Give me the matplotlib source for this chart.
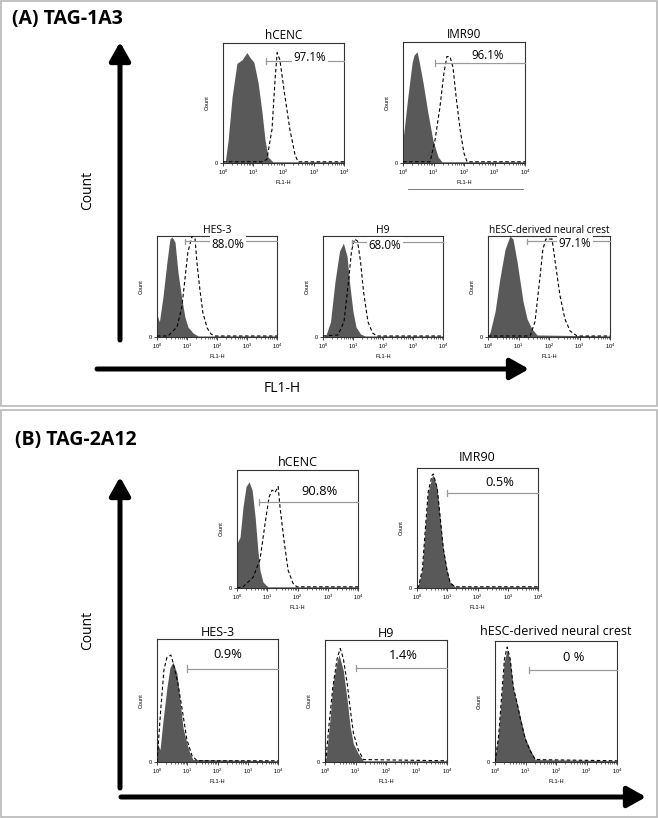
import matplotlib
matplotlib.use('Agg')
import matplotlib.pyplot as plt
from matplotlib.patches import Rectangle
from matplotlib.ticker import LogLocator, NullFormatter

# ---------------- data (log10 FL1-H position, normalised count) ----------------
titles = ["hCENC", "IMR90", "HES-3", "H9", "hESC-derived neural crest"]
pct_A = ["97.1%", "96.1%", "88.0%", "68.0%", "97.1%"]
pct_B = ["90.8%", "0.5%", "0.9%", "1.4%", "0 %"]
gate_A = [1.42, 1.05, 0.93, 0.97, 1.28]      # log10 gate start
gate_B = [0.73, 0.99, 0.99, 1.02, 1.12]

# Panel A (TAG-1A3)
A_hcenc_iso_x = [0.0, 0.07, 0.17, 0.30, 0.46, 0.63, 0.79, 0.89, 1.02, 1.16, 1.29, 1.39, 1.49, 1.65, 4.0]
A_hcenc_iso_y = [0.02, 0.0, 0.19, 0.55, 0.83, 0.86, 0.92, 0.88, 0.84, 0.67, 0.42, 0.19, 0.05, 0.01, 0.01]
A_hcenc_ab_x = [0.0, 1.30, 1.45, 1.62, 1.72, 1.79, 1.88, 2.05, 2.21, 2.38, 2.48, 4.0]
A_hcenc_ab_y = [0.01, 0.01, 0.03, 0.28, 0.69, 0.92, 0.86, 0.55, 0.28, 0.07, 0.01, 0.01]

A_imr_iso_x = [0.0, 0.0, 0.16, 0.30, 0.36, 0.46, 0.52, 0.66, 0.82, 0.98, 1.15, 1.28, 4.0]
A_imr_iso_y = [0.0, 0.19, 0.55, 0.83, 0.89, 0.92, 0.85, 0.66, 0.41, 0.19, 0.05, 0.01, 0.01]
A_imr_ab_x = [0.0, 0.89, 1.05, 1.21, 1.34, 1.44, 1.54, 1.64, 1.74, 1.87, 2.0, 2.1, 4.0]
A_imr_ab_y = [0.01, 0.01, 0.19, 0.46, 0.74, 0.88, 0.88, 0.79, 0.55, 0.28, 0.08, 0.01, 0.01]

A_hes_iso_x = [0.0, 0.0, 0.08, 0.2, 0.33, 0.43, 0.5, 0.6, 0.7, 0.83, 0.93, 1.03, 1.2, 1.37, 4.0]
A_hes_iso_y = [0.0, 0.22, 0.15, 0.40, 0.74, 0.97, 0.99, 0.94, 0.64, 0.37, 0.2, 0.1, 0.04, 0.01, 0.01]
A_hes_ab_x = [0.0, 0.37, 0.67, 0.83, 0.93, 1.03, 1.17, 1.27, 1.33, 1.43, 1.53, 1.67, 1.8, 1.93, 4.0]
A_hes_ab_y = [0.01, 0.01, 0.1, 0.3, 0.57, 0.84, 1.0, 0.97, 0.74, 0.47, 0.24, 0.09, 0.03, 0.01, 0.01]

A_h9_iso_x = [0.0, 0.1, 0.25, 0.4, 0.55, 0.68, 0.8, 0.9, 1.0, 1.1, 1.25, 1.4, 4.0]
A_h9_iso_y = [0.0, 0.02, 0.15, 0.55, 0.85, 0.93, 0.8, 0.5, 0.25, 0.1, 0.03, 0.01, 0.01]
A_h9_ab_x = [0.0, 0.5, 0.7, 0.85, 0.95, 1.05, 1.15, 1.25, 1.35, 1.5, 1.65, 1.8, 4.0]
A_h9_ab_y = [0.01, 0.02, 0.15, 0.55, 0.85, 0.97, 0.95, 0.75, 0.45, 0.15, 0.04, 0.01, 0.01]

A_nc_iso_x = [0.0, 0.07, 0.23, 0.39, 0.56, 0.72, 0.82, 0.95, 1.05, 1.15, 1.28, 1.44, 1.61, 4.0]
A_nc_iso_y = [0.0, 0.05, 0.25, 0.58, 0.87, 1.0, 0.97, 0.75, 0.55, 0.35, 0.18, 0.08, 0.02, 0.01]
A_nc_ab_x = [0.0, 1.38, 1.54, 1.7, 1.8, 1.9, 2.1, 2.2, 2.36, 2.52, 2.69, 2.92, 4.0]
A_nc_ab_y = [0.01, 0.01, 0.15, 0.58, 0.87, 0.97, 0.97, 0.75, 0.41, 0.18, 0.06, 0.01, 0.01]

# Panel B (TAG-2A12)
B_hcenc_iso_x = [0.0, 0.0, 0.1, 0.2, 0.3, 0.4, 0.5, 0.6, 0.69, 0.76, 0.86, 1.02, 4.0]
B_hcenc_iso_y = [0.0, 0.38, 0.43, 0.69, 0.86, 0.9, 0.83, 0.6, 0.32, 0.15, 0.05, 0.01, 0.01]
B_hcenc_ab_x = [0.0, 0.2, 0.53, 0.76, 0.93, 1.06, 1.16, 1.26, 1.36, 1.42, 1.55, 1.69, 1.85, 1.98, 4.0]
B_hcenc_ab_y = [0.0, 0.01, 0.09, 0.24, 0.55, 0.77, 0.83, 0.81, 0.86, 0.69, 0.41, 0.15, 0.04, 0.01, 0.01]

B_imr_iso_x = [0.0, 0.03, 0.17, 0.26, 0.36, 0.5, 0.53, 0.66, 0.76, 0.86, 0.99, 1.09, 1.26, 4.0]
B_imr_iso_y = [0.0, 0.01, 0.15, 0.46, 0.79, 0.93, 0.94, 0.84, 0.59, 0.34, 0.15, 0.05, 0.01, 0.01]
B_imr_ab_x = [0.0, 0.05, 0.18, 0.27, 0.37, 0.5, 0.54, 0.67, 0.77, 0.87, 1.0, 1.1, 1.27, 4.0]
B_imr_ab_y = [0.0, 0.01, 0.16, 0.47, 0.8, 0.94, 0.95, 0.83, 0.58, 0.33, 0.14, 0.04, 0.01, 0.01]

B_hes_iso_x = [0.0, 0.0, 0.1, 0.2, 0.33, 0.43, 0.53, 0.66, 0.76, 0.86, 0.99, 1.09, 1.19, 4.0]
B_hes_iso_y = [0.0, 0.16, 0.1, 0.34, 0.61, 0.77, 0.81, 0.72, 0.5, 0.28, 0.15, 0.07, 0.02, 0.01]
B_hes_ab_x = [0.0, 0.03, 0.13, 0.23, 0.33, 0.46, 0.53, 0.69, 0.83, 0.99, 1.16, 1.33, 4.0]
B_hes_ab_y = [0.0, 0.1, 0.45, 0.75, 0.85, 0.87, 0.81, 0.64, 0.43, 0.18, 0.05, 0.01, 0.01]

B_h9_iso_x = [0.0, 0.03, 0.17, 0.26, 0.4, 0.46, 0.6, 0.73, 0.83, 0.93, 1.09, 1.26, 4.0]
B_h9_iso_y = [0.0, 0.02, 0.37, 0.64, 0.83, 0.88, 0.75, 0.5, 0.28, 0.15, 0.07, 0.01, 0.01]
B_h9_ab_x = [0.0, 0.03, 0.13, 0.26, 0.4, 0.5, 0.6, 0.73, 0.83, 0.93, 1.09, 1.26, 4.0]
B_h9_ab_y = [0.0, 0.02, 0.3, 0.62, 0.85, 0.93, 0.85, 0.64, 0.43, 0.24, 0.1, 0.02, 0.01]

B_nc_iso_x = [0.0, 0.0, 0.1, 0.2, 0.3, 0.4, 0.5, 0.6, 0.73, 0.83, 0.99, 1.16, 1.32, 4.0]
B_nc_iso_y = [0.0, 0.03, 0.2, 0.5, 0.83, 0.93, 0.83, 0.61, 0.48, 0.37, 0.2, 0.1, 0.02, 0.01]
B_nc_ab_x = [0.0, 0.03, 0.12, 0.21, 0.31, 0.4, 0.5, 0.6, 0.73, 0.83, 0.99, 1.16, 1.32, 4.0]
B_nc_ab_y = [0.0, 0.05, 0.22, 0.52, 0.85, 0.95, 0.85, 0.62, 0.48, 0.36, 0.19, 0.09, 0.02, 0.01]

curves_A = [(A_hcenc_iso_x, A_hcenc_iso_y, A_hcenc_ab_x, A_hcenc_ab_y),
            (A_imr_iso_x, A_imr_iso_y, A_imr_ab_x, A_imr_ab_y),
            (A_hes_iso_x, A_hes_iso_y, A_hes_ab_x, A_hes_ab_y),
            (A_h9_iso_x, A_h9_iso_y, A_h9_ab_x, A_h9_ab_y),
            (A_nc_iso_x, A_nc_iso_y, A_nc_ab_x, A_nc_ab_y)]
curves_B = [(B_hcenc_iso_x, B_hcenc_iso_y, B_hcenc_ab_x, B_hcenc_ab_y),
            (B_imr_iso_x, B_imr_iso_y, B_imr_ab_x, B_imr_ab_y),
            (B_hes_iso_x, B_hes_iso_y, B_hes_ab_x, B_hes_ab_y),
            (B_h9_iso_x, B_h9_iso_y, B_h9_ab_x, B_h9_ab_y),
            (B_nc_iso_x, B_nc_iso_y, B_nc_ab_x, B_nc_ab_y)]

# ---------------- layout ----------------
W, H = 658, 818
fig = plt.figure(figsize=(W / 100, H / 100), dpi=100)
TXT = ['Open Sans', 'DejaVu Sans']
SMALL = ['Liberation Sans', 'DejaVu Sans']

def rect(x0, y0, x1, y1):
    return [x0 / W, 1 - y1 / H, (x1 - x0) / W, (y1 - y0) / H]

ov = fig.add_axes([0, 0, 1, 1], zorder=0)
ov.set_xlim(0, W)
ov.set_ylim(H, 0)
ov.axis('off')

# panel frames
ov.add_patch(Rectangle((1, 1), 656, 405, fill=False, ec='#b8b8b8', lw=1.2))
ov.add_patch(Rectangle((1, 410), 656, 407, fill=False, ec='#b8b8b8', lw=1.2))

ov.text(12, 19, "(A) TAG-1A3", fontsize=14, fontweight='bold', family=TXT, va='center', ha='left')
ov.text(15, 440, "(B) TAG-2A12", fontsize=14, fontweight='bold', family=TXT, va='center', ha='left')

arrow_kw = dict(arrowstyle='-|>,head_length=0.8,head_width=0.45', lw=3.6, color='black',
                mutation_scale=14, shrinkA=0, shrinkB=0)
ov.annotate('', xy=(120, 42), xytext=(120, 340), arrowprops=arrow_kw)
ov.annotate('', xy=(529, 369), xytext=(97, 369), arrowprops=arrow_kw)
ov.annotate('', xy=(120, 477), xytext=(120, 788), arrowprops=arrow_kw)
ov.annotate('', xy=(646, 797), xytext=(121, 797), arrowprops=arrow_kw)

ov.text(88, 190, "Count", fontsize=10, rotation=90, family=TXT, ha='center', va='center')
ov.text(88, 630, "Count", fontsize=10, rotation=90, family=TXT, ha='center', va='center')
ov.text(282, 388, "FL1-H", fontsize=10, family=TXT, ha='center', va='center')
ov.plot([408, 523], [189, 189], color='#666666', lw=0.6)

boxes_A = [(223, 43, 344, 163), (403, 42, 525, 163), (157, 236, 277, 337),
           (323, 236, 443, 337), (488, 236, 610, 337)]
boxes_B = [(237, 470, 358, 588), (417, 468, 538, 588), (157, 639, 278, 762),
           (325, 640, 447, 762), (495, 641, 617, 762)]
gate_y_A = [0.85, 0.83, 0.95, 0.94, 0.95]
gate_y_B = [0.73, 0.79, 0.76, 0.77, 0.76]
txt_pos_A = [(2.88, 0.88), (2.79, 0.89), (2.37, 0.92), (2.07, 0.91), (2.85, 0.93)]
txt_pos_B = [(2.74, 0.82), (2.74, 0.88), (2.35, 0.87), (2.58, 0.87), (2.58, 0.86)]
title_size_A = [8.5, 8.5, 7.5, 7.5, 7.2]
title_pad_A = [3, 3, 2, 2, 2]
title_size_B = [9, 9, 9, 9, 9]
title_pad_B = [3, 5, 1, 1, 4]


def hist_panel(box, title, curves, gate, gy, pct, tpos, tsize, pad, psize, cover):
    ax = fig.add_axes(rect(*box), zorder=2)
    ix, iy, ax_, ay = curves
    ax.fill_between([10 ** v for v in ix], iy, 0, color='#595959', lw=0, zorder=2)
    ax.plot([10 ** v for v in ax_], ay, color='black', lw=0.8, ls=(0, (3.2, 2.2)), zorder=3)
    ax.set_xscale('log')
    ax.set_xlim(1, 1e4)
    ax.set_ylim(0, 1.0)
    ax.set_yticks([0])
    ax.set_yticklabels(['0'])
    ax.xaxis.set_major_locator(LogLocator(base=10, numticks=6))
    ax.xaxis.set_minor_locator(LogLocator(base=10, subs=range(2, 10), numticks=12))
    ax.xaxis.set_minor_formatter(NullFormatter())
    ax.tick_params(axis='both', which='major', labelsize=4, length=2, width=0.5, pad=1.5)
    ax.tick_params(axis='x', which='minor', length=1.2, width=0.4)
    for lab in ax.get_xticklabels() + ax.get_yticklabels():
        lab.set_family(SMALL)
    for s in ax.spines.values():
        s.set_linewidth(0.8)
        s.set_color('#333333')
    ax.set_xlabel('FL1-H', fontsize=4, labelpad=2, family=SMALL)
    ax.set_ylabel('Count', fontsize=4, labelpad=4, family=SMALL)
    ax.set_title(title, fontsize=tsize, pad=pad, family=TXT)
    g0 = 10 ** gate
    ax.plot([g0, 1e4], [gy, gy], color='#9a9a9a', lw=0.9, zorder=4, clip_on=False)
    ax.plot([g0, g0], [gy - 0.025, gy + 0.025], color='#9a9a9a', lw=0.9, zorder=4)
    bb = dict(facecolor='white', edgecolor='none', pad=1.0) if cover else None
    ax.text(10 ** tpos[0], tpos[1], pct, fontsize=psize, family=TXT, ha='center', va='center',
            zorder=5, bbox=bb)
    return ax


for i in range(5):
    hist_panel(boxes_A[i], titles[i], curves_A[i], gate_A[i], gate_y_A[i], pct_A[i],
               txt_pos_A[i], title_size_A[i], title_pad_A[i], 8.3, True)
    hist_panel(boxes_B[i], titles[i], curves_B[i], gate_B[i], gate_y_B[i], pct_B[i],
               txt_pos_B[i], title_size_B[i], title_pad_B[i], 9.3, False)

fig.savefig('out.png', dpi=100)
